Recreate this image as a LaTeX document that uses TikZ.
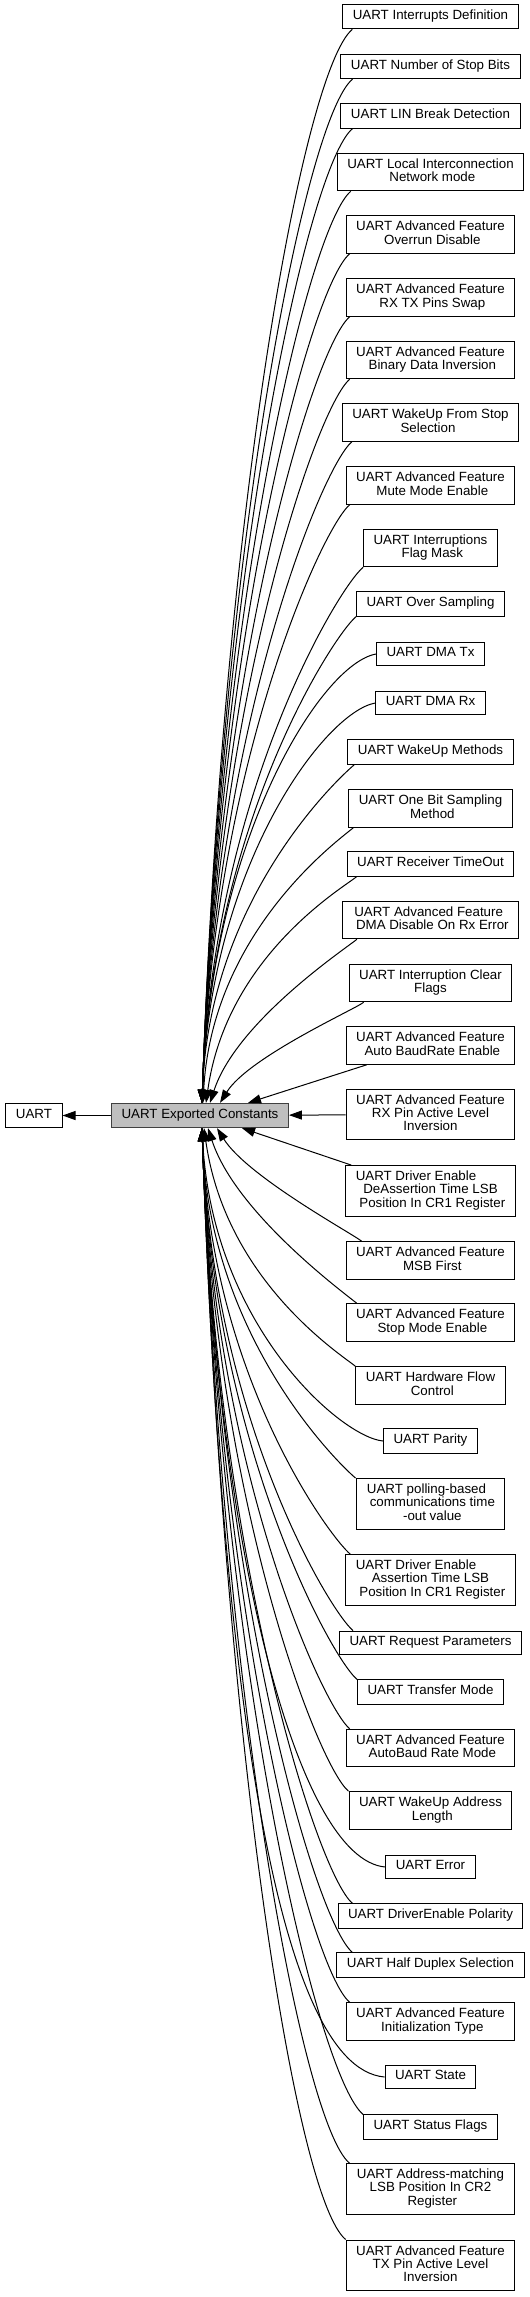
\documentclass[tikz,border=0pt]{standalone}
\usepackage{fontspec}
\setmainfont{Liberation Sans}
\usepackage{tikz}
\usetikzlibrary{arrows.meta}
\newcommand{\gvsp}{\hspace*{3.7pt}}
\newcommand{\gvpad}[1]{\hspace*{#1pt}}
\tikzset{
    modbox/.style={draw=black, line width=1pt, fill=white, align=center, inner xsep=10pt, inner ysep=5.3pt,
        font=\fontsize{13.33}{13.33}\selectfont, execute at begin node=\strut, execute at end node=\strut},
    curbox/.style={modbox, draw=black!75, fill=black!25},
    link/.style={draw, line width=1pt, -{Triangle[length=13pt, width=9pt]}}
}
\begin{document}
\begin{tikzpicture}[x=1pt, y=-1pt]
    \useasboundingbox (0,0) rectangle (530,2297);
    % Nodes
    \node[modbox] (uart) at (34,1115.5) {UART};
    \node[curbox] (consts) at (200,1115.5) {UART Exported Constants};

    \node[modbox] (irqdef) at (430.5,16.7) {UART Interrupts Definition};
    \node[modbox] (stopbits) at (430.5,66.5) {UART Number of Stop Bits};
    \node[modbox] (linbrk) at (430.5,116) {UART LIN Break Detection};
    \node[modbox] (linmode) at (430.5,172) {UART Local Interconnection\\\gvsp Network mode};
    \node[modbox] (ovrdis) at (430.5,234.5) {UART Advanced Feature\\\gvsp Overrun Disable};
    \node[modbox] (pinswap) at (430.5,297.5) {UART Advanced Feature\\\gvsp RX TX Pins Swap};
    \node[modbox] (datainv) at (430.5,360) {UART Advanced Feature\\\gvsp Binary Data Inversion};
    \node[modbox] (wustop) at (430.5,422.5) {UART WakeUp From Stop\\Selection\gvpad{5}};
    \node[modbox] (mute) at (430.5,485.5) {UART Advanced Feature\\\gvsp Mute Mode Enable};
    \node[modbox] (irqmask) at (430.5,548) {UART Interruptions\\\gvsp Flag Mask};
    \node[modbox] (ovsamp) at (430.5,604) {UART Over Sampling};
    \node[modbox] (dmatx) at (430.5,654) {UART DMA Tx};
    \node[modbox] (dmarx) at (430.5,703) {UART DMA Rx};
    \node[modbox] (wumeth) at (430.5,752) {UART WakeUp Methods};
    \node[modbox] (onebit) at (430.5,808.5) {UART One Bit Sampling\\\gvsp Method};
    \node[modbox] (rxtimeout) at (430.5,864) {UART Receiver TimeOut};
    \node[modbox] (dmadis) at (430.5,920) {UART Advanced Feature\gvsp\\\gvsp DMA Disable On Rx Error};
    \node[modbox] (irqclr) at (430.5,983) {UART Interruption Clear\\Flags};
    \node[modbox] (abren) at (430.5,1045.5) {UART Advanced Feature\\\gvsp Auto BaudRate Enable};
    \node[modbox] (rxinv) at (430.5,1114.5) {UART Advanced Feature\\RX Pin Active Level\gvpad{21}\\Inversion};
    \node[modbox] (deatlsb) at (430.5,1191) {UART Driver Enable\gvpad{29}\\DeAssertion Time LSB\gvpad{9}\\\gvsp Position In CR1 Register};
    \node[modbox] (msbfirst) at (430.5,1260.5) {UART Advanced Feature\\\gvsp MSB First};
    \node[modbox] (stopmode) at (430.5,1322.5) {UART Advanced Feature\\\gvsp Stop Mode Enable};
    \node[modbox] (hwflow) at (430.5,1385.5) {UART Hardware Flow\\\gvsp Control};
    \node[modbox] (parity) at (430.5,1441) {UART Parity};
    \node[modbox] (polltime) at (430.5,1504) {UART polling-based\gvpad{8}\\\gvsp communications time\\\gvsp -out value};
    \node[modbox] (asslsb) at (430.5,1580) {UART Driver Enable\gvpad{29}\\Assertion Time LSB\gvpad{25}\\\gvsp Position In CR1 Register};
    \node[modbox] (reqparam) at (430.5,1643) {UART Request Parameters};
    \node[modbox] (xfermode) at (430.5,1692) {UART Transfer Mode};
    \node[modbox] (abrmode) at (430.5,1748) {UART Advanced Feature\\\gvsp AutoBaud Rate Mode};
    \node[modbox] (wuaddr) at (430.5,1810.5) {UART WakeUp Address\\\gvsp Length};
    \node[modbox] (error) at (430.5,1867) {UART Error};
    \node[modbox] (depol) at (430.5,1916) {UART DriverEnable Polarity};
    \node[modbox] (halfdup) at (430.5,1965) {UART Half Duplex Selection};
    \node[modbox] (advinit) at (430.5,2021.5) {UART Advanced Feature\\\gvsp Initialization Type};
    \node[modbox] (state) at (430.5,2077) {UART State};
    \node[modbox] (status) at (430.5,2127) {UART Status Flags};
    \node[modbox] (addrlsb) at (430.5,2189) {UART Address-matching\\LSB Position In CR2\gvpad{16}\\\gvsp Register};
    \node[modbox] (txinv) at (430.5,2265.5) {UART Advanced Feature\\TX Pin Active Level\gvpad{31}\\Inversion};

    % edges
    \draw[link] (consts) -- (uart);
    \draw[link] (rxinv) -- (consts);

    \draw[link] ([xshift=10pt]irqdef.south west) .. controls +(-140:64pt) and +(88:594pt) .. ([xshift=2pt]consts.north);
    \draw[link] ([xshift=12pt]stopbits.south west) .. controls +(-140:61pt) and +(88:567pt) .. ([xshift=2pt]consts.north);
    \draw[link] ([xshift=12pt]linbrk.south west) .. controls +(-140:58pt) and +(88:540pt) .. ([xshift=2pt]consts.north);
    \draw[link] ([xshift=14pt]linmode.south west) .. controls +(-140:54pt) and +(88:506pt) .. ([xshift=2pt]consts.north);
    \draw[link] ([xshift=4pt]ovrdis.south west) .. controls +(-140:51pt) and +(88:473pt) .. ([xshift=2pt]consts.north);
    \draw[link] ([xshift=4pt]pinswap.south west) .. controls +(-140:47pt) and +(88:439pt) .. ([xshift=2pt]consts.north);
    \draw[link] ([xshift=4pt]datainv.south west) .. controls +(-140:43pt) and +(88:405pt) .. ([xshift=2pt]consts.north);
    \draw[link] ([xshift=10pt]wustop.south west) .. controls +(-140:40pt) and +(88:372pt) .. ([xshift=2pt]consts.north);
    \draw[link] ([xshift=4pt]mute.south west) .. controls +(-140:36pt) and +(88:338pt) .. ([xshift=2pt]consts.north);
    \draw[link] (irqmask.south west) .. controls +(-140:33pt) and +(88:307pt) .. ([xshift=2pt]consts.north);
    \draw[link] (ovsamp.south west) .. controls +(-140:30pt) and +(88:280pt) .. ([xshift=2pt]consts.north);
    \draw[link] (dmatx.west) .. controls +(-170:56pt) and +(88:264pt) .. ([xshift=2pt]consts.north);
    \draw[link] (dmarx.west) .. controls +(-170:51pt) and +(88:239pt) .. ([xshift=2pt]consts.north);
    \draw[link] ([xshift=7pt]wumeth.south west) .. controls +(-140:22pt) and +(88:204pt) .. ([xshift=2pt]consts.north);
    \draw[link] ([xshift=5pt]onebit.south west) .. controls +(-140:18pt) and +(87:172pt) .. ([xshift=3pt]consts.north);
    \draw[link] ([xshift=10pt]rxtimeout.south west) .. controls +(-140:16pt) and +(82:149pt) .. ([xshift=6pt]consts.north);
    \draw[link] ([xshift=15pt]dmadis.south west) .. controls +(-140:13pt) and +(72:86pt) .. ([xshift=10pt]consts.north);
    \draw[link] ([xshift=15pt]irqclr.south west) .. controls +(-140:10pt) and +(58:54pt) .. ([xshift=20pt]consts.north);
    \draw[link] ([xshift=21pt]abren.south west) -- ([xshift=48pt]consts.north);

    \draw[link] ([xshift=6pt]deatlsb.north west) -- ([xshift=42pt]consts.south);
    \draw[link] ([xshift=16pt]msbfirst.north west) .. controls +(140:11pt) and +(-58:57pt) .. ([xshift=17pt]consts.south);
    \draw[link] ([xshift=11pt]stopmode.north west) .. controls +(140:13pt) and +(-72:90pt) .. ([xshift=8pt]consts.south);
    \draw[link] (hwflow.north west) .. controls +(140:17pt) and +(-82:155pt) .. ([xshift=4pt]consts.south);
    \draw[link] (parity.west) .. controls +(175:42pt) and +(-87:198pt) .. ([xshift=2pt]consts.south);
    \draw[link] (polltime.north west) .. controls +(140:22pt) and +(-88:210pt) .. ([xshift=2pt]consts.south);
    \draw[link] ([xshift=5pt]asslsb.north west) .. controls +(140:27pt) and +(-88:248pt) .. ([xshift=2pt]consts.south);
    \draw[link] ([xshift=14pt]reqparam.north west) .. controls +(140:31pt) and +(-88:288pt) .. ([xshift=2pt]consts.south);
    \draw[link] (xfermode.north west) .. controls +(140:34pt) and +(-88:314pt) .. ([xshift=2pt]consts.south);
    \draw[link] ([xshift=4pt]abrmode.north west) .. controls +(140:36pt) and +(-88:339pt) .. ([xshift=2pt]consts.south);
    \draw[link] (wuaddr.north west) .. controls +(140:40pt) and +(-88:373pt) .. ([xshift=2pt]consts.south);
    \draw[link] (error.west) .. controls +(175:89pt) and +(-88:417pt) .. ([xshift=2pt]consts.south);
    \draw[link] ([xshift=15pt]depol.north west) .. controls +(140:46pt) and +(-88:433pt) .. ([xshift=2pt]consts.south);
    \draw[link] ([xshift=16pt]halfdup.north west) .. controls +(140:49pt) and +(-88:460pt) .. ([xshift=2pt]consts.south);
    \draw[link] ([xshift=4pt]advinit.north west) .. controls +(140:52pt) and +(-88:486pt) .. ([xshift=2pt]consts.south);
    \draw[link] (state.west) .. controls +(175:113pt) and +(-88:529pt) .. ([xshift=2pt]consts.south);
    \draw[link] (status.north west) .. controls +(140:59pt) and +(-88:548pt) .. ([xshift=2pt]consts.south);
    \draw[link] ([xshift=3pt]addrlsb.north west) .. controls +(140:61pt) and +(-88:574pt) .. ([xshift=2pt]consts.south);
    \draw[link] (txinv.north west) .. controls +(140:66pt) and +(-88:614pt) .. ([xshift=2pt]consts.south);
\end{tikzpicture}
\end{document}
